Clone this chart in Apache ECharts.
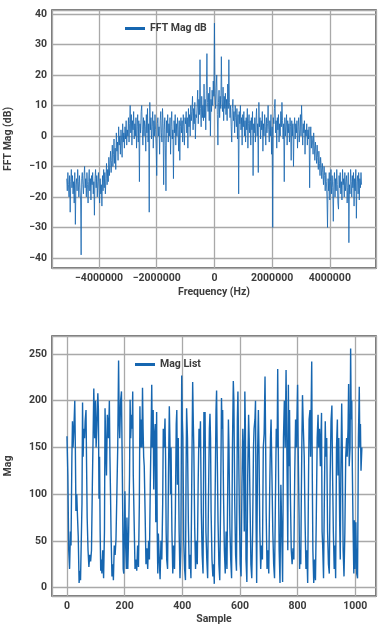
<!DOCTYPE html>
<html><head><meta charset="utf-8">
<script src="https://cdn.jsdelivr.net/npm/echarts@6/dist/echarts.min.js"></script>
<style>html,body{margin:0;padding:0;background:#fff}#c{width:384px;height:627px}</style>
</head><body><div id="c"></div>
<script>
// ---- Top chart: FFT magnitude (dB) over frequency bins ----
const fftStartHz = -5120000;
const fftStepHz = 20000;
const fftMagDb = [
-14,-18,-12,-16,-20,-13,-25,-15,-11,-17,
-13,-19,-15,-22,-12,-29,-16,-14,-18,-11,
-15,-20,-13,-17,-21,-39,-14,-12,-16,-19,
-13,-10,-17,-14,-20,-12,-16,-22,-15,-11,
-18,-14,-21,-13,-16,-12,-19,-15,-26,-14,
-11,-17,-13,-20,-15,-12,-18,-22,-14,-19,
-16,-23,-13,-18,-11,-17,
-12,-19,-14,-9,-16,-11,-15,-7,-13,-9,
-5,-12,-8,-3,-10,-6,-1,-9,-4,-11,
1,-5,-2,-8,3,-3,0,-6,2,-1,
-7,4,-2,1,-4,3,-1,5,-3,2,
0,6,-2,4,10,1,7,-3,5,2,
8,-1,4,0,6,-4,3,7,-2,5,
-15,4,1,8,10,2,-3,6,0,5,
3,-5,7,1,9,-2,4,-25,11,2,
6,-1,3,8,-4,5,0,7,2,-3,
-13,4,6,0,3,-6,5,8,1,-2,
9,4,-16,2,6,-3,-18,5,1,7,
-2,4,0,6,-6,3,8,-1,2,-14,
5,1,7,-3,4,0,6,2,-5,5,
-8,3,6,1,5,-2,7,3,-3,6,
4,8,1,6,-4,9,3,7,0,10,
5,8,13,2,9,4,11,-1,7,6,
10,15,4,12,7,25,9,3,13,6,10,5,
17,6,12,2,15,27,11,8,14,5,16,0,12,8,15,10,18,13,37,14,9,16,20,7,-3,11,15,6,13,9,26,12,8,16,5,13,9,14,
7,12,5,17,9,25,11,6,10,3,-2,9,12,5,8,1,10,6,3,9,-1,7,-19,8,4,10,2,6,-3,7,
3,8,0,5,-2,6,2,9,-4,4,
7,1,5,-3,6,2,8,-13,4,1,
6,-2,5,9,0,4,-12,11,3,6,
-1,5,2,8,-5,4,0,7,3,-3,
6,1,4,10,2,-2,5,0,7,-6,
3,-30,6,4,9,12,1,5,-4,6,
2,7,-2,4,0,8,3,11,5,-1,
4,-15,6,0,3,7,-3,5,1,4,
-2,6,3,-8,5,0,4,-10,2,6,
-1,4,1,5,-4,3,6,-2,2,7,
0,10,3,-3,4,1,5,-6,2,0,
4,-3,2,-1,3,-17,
-1,3,-4,0,-2,-6,1,-3,-8,-2,
-5,-9,-3,-7,-11,-5,-9,-13,-7,-10,
-14,-9,-12,-16,-10,-13,-18,-12,-15,-20,
-30,-14,-18,-12,-21,-15,-11,-19,-13,-17,
-28,-15,-12,-20,-14,-18,-11,-16,-22,-24,
-13,-17,-12,-19,-15,-21,-11,-16,-14,-20,
-12,-18,-15,-13,-22,-17,-12,-35,-16,-19,
-11,-15,-20,-13,-17,-12,-23,-14,-18,-11,
-27,-15,-13,-19,-12,-21,-14,-17,-12,-16
];

// ---- Bottom chart: magnitude list over sample index ----
const magSamples = [
0,3,6,9,12,14,17,19,21,24,27,29,31,34,36,39,42,45,47,50,52,54,56,58,61,63,66,68,70,73,76,79,82,85,88,91,93,96,99,101,
104,107,109,111,113,115,117,119,121,124,127,130,132,134,137,140,144,147,149,151,153,156,159,161,164,167,170,173,176,179,
181,183,186,189,191,193,195,197,199,201,203,206,208,211,214,217,219,221,224,226,228,230,233,236,239,242,245,248,251,253,
255,258,260,262,264,266,268,271,274,277,280,283,286,289,292,294,296,299,301,303,306,308,311,313,315,317,320,323,326,329,
332,334,337,340,342,344,346,349,352,355,357,359,361,364,367,370,373,376,379,381,383,386,389,392,395,398,400,402,405,408,
411,413,415,418,421,424,427,430,433,436,438,440,443,446,449,452,455,458,461,463,466,469,472,475,477,479,482,485,488,491,
494,496,498,500,503,506,509,511,514,517,519,521,524,527,530,533,536,538,540,543,546,549,552,555,558,560,562,565,568,571,
574,577,579,582,585,588,591,593,595,598,601,604,607,610,612,615,617,619,621,624,627,630,632,635,638,641,644,647,649,652,
654,656,658,661,664,666,669,672,675,678,681,684,687,689,691,694,697,700,703,706,708,711,714,717,720,723,726,729,731,733,
736,739,742,745,748,751,754,757,760,762,764,766,768,770,772,775,778,781,784,787,790,793,796,800,802,805,807,809,811,813,
815,817,820,823,826,829,832,835,838,840,843,845,849,851,853,856,859,862,865,868,871,873,876,879,883,885,887,890,893,896,
898,901,904,907,910,913,916,919,921,924,927,930,932,935,938,940,943,946,948,950,953,955,958,961,964,967,970,972,975,977,
979,982,984,986,988,990,992,995,997,999,1002,1005,1008,1011,1014,1016,1018,1020,1023
];
const magValues = [
162,120,40,20,60,45,140,178,150,170,200,150,82,100,80,55,5,18,8,57,90,198,140,170,160,178,190,130,75,40,22,35,28,40,110,170,213,160,200,150,
175,208,190,95,140,60,18,30,15,40,10,60,192,160,120,185,160,200,140,100,55,12,25,8,45,35,52,100,150,243,
180,160,200,210,150,90,20,15,60,103,50,20,75,20,60,120,201,160,185,170,210,120,70,20,30,18,45,22,90,194,
150,180,150,214,170,140,130,80,25,42,20,50,30,110,170,217,150,190,105,160,175,70,188,60,15,58,30,9,50,30,
90,170,150,181,140,60,30,20,120,194,160,100,150,60,15,45,20,80,175,190,110,160,60,10,40,227,180,160,50,20,
8,120,192,160,70,20,35,10,120,220,180,150,65,20,50,25,110,170,150,178,80,35,15,188,150,188,60,30,10,100,
170,186,160,80,30,12,25,4,100,190,211,150,70,25,8,90,203,170,190,100,40,15,60,20,120,180,150,65,30,10,
150,221,200,90,35,18,180,210,160,80,25,12,110,170,150,60,210,170,30,6,120,185,160,90,25,10,60,150,170,180,
200,70,5,140,190,150,60,20,45,30,150,165,226,160,80,20,40,15,100,160,180,120,60,25,10,90,170,150,234,150,
40,5,110,60,6,160,200,150,233,170,110,40,217,130,190,100,40,25,42,30,120,180,150,217,150,80,20,40,25,100,
160,206,170,140,70,20,40,5,120,180,190,140,242,120,40,5,30,8,78,160,185,150,170,130,187,60,45,10,100,178,
140,160,60,25,15,120,178,195,130,60,20,45,10,150,180,120,160,70,30,120,197,150,40,12,60,140,160,140,170,218,
130,150,256,180,200,125,75,15,72,20,70,15,10,160,215,150,175,125,150
];

const LINE = '#1666b0';
const TXT = '#3c3c3c';
const FONT = 'Roboto, "Noto Sans", sans-serif';
const fftData = fftMagDb.map((v, i) => [fftStartHz + fftStepHz * i, v]);
const magData = magValues.map((v, i) => [magSamples[i], v]);

function fmt(step) {
  return function (v) {
    const r = Math.round(v);
    if (Math.abs(v - r) > 1e-6 || r % step !== 0) return '';
    return r < 0 ? '\u2212' + Math.abs(r) : String(r);
  };
}
const lab = {color: TXT, fontSize: 10.5, fontWeight: 'bold', fontFamily: FONT};
const split = {show: true, lineStyle: {color: '#a9a9a9', width: 1.3}};
function ax(gi, min, max, step, sn, name, gap) {
  return {type: 'value', gridIndex: gi, min: min, max: max, splitNumber: sn,
    axisLine: {show: false}, axisTick: {show: false}, splitLine: split,
    axisLabel: Object.assign({margin: 5, formatter: fmt(step), showMinLabel: false, showMaxLabel: false}, lab),
    name: name, nameLocation: 'middle', nameGap: gap, nameTextStyle: lab};
}

const chart = echarts.init(document.getElementById('c'), null, {renderer: 'canvas'});
chart.setOption({
  animation: false,
  backgroundColor: '#fff',
  grid: [
    {left: 52, top: 10, width: 324, height: 258, containLabel: false, outerBoundsMode: 'none',
      show: true, borderColor: '#4a4a4a', borderWidth: 1.5, backgroundColor: 'transparent'},
    {left: 52, top: 336, width: 324, height: 260, containLabel: false, outerBoundsMode: 'none',
      show: true, borderColor: '#4a4a4a', borderWidth: 1.5, backgroundColor: 'transparent'}
  ],
  xAxis: [
    ax(0, -5630000, 5600000, 2000000, 5, 'Frequency (Hz)', 19),
    ax(1, -52, 1072, 200, 5, 'Sample', 18)
  ],
  yAxis: [
    ax(0, -43.3, 41.3, 10, 8, 'FFT Mag (dB)', 38),
    ax(1, -9, 269.3, 50, 5, 'Mag', 38)
  ],
  legend: [
    {data: ['FFT Mag dB'], left: 125, top: 23, padding: 0, itemGap: 0, icon: 'rect', itemWidth: 20, itemHeight: 3, textStyle: lab},
    {data: ['Mag List'], left: 135, top: 359, padding: 0, itemGap: 0, icon: 'rect', itemWidth: 20, itemHeight: 3, textStyle: lab}
  ],
  series: [
    {name: 'FFT Mag dB', type: 'line', xAxisIndex: 0, yAxisIndex: 0, data: fftData, symbol: 'none',
      lineStyle: {width: 0.8, color: LINE}, itemStyle: {color: LINE}},
    {name: 'Mag List', type: 'line', xAxisIndex: 1, yAxisIndex: 1, data: magData, symbol: 'none',
      lineStyle: {width: 1.4, color: LINE}, itemStyle: {color: LINE}}
  ]
});
</script>
</body></html>
